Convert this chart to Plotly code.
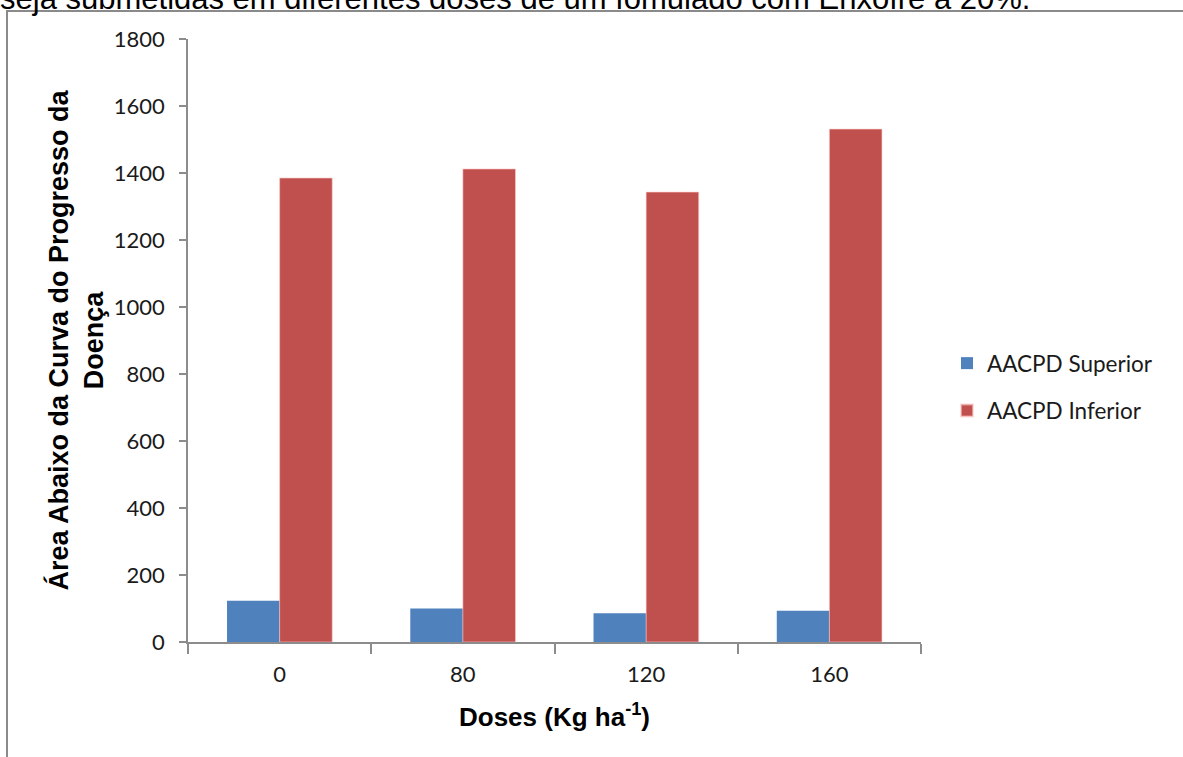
import plotly.graph_objects as go

doses = ["0", "80", "120", "160"]
superior = [123, 100, 86, 93]
inferior = [1385, 1412, 1343, 1531]
y_ticks = [0, 200, 400, 600, 800, 1000, 1200, 1400, 1600, 1800]

W, H = 1183, 757
L, R, T, B = 188, 262, 39, 115
pw, ph = W - L - R, H - T - B

def px_x(x):
    return (x - L) / pw

def px_y(y):
    return (H - B - y) / ph

fig = go.Figure()
fig.add_trace(go.Bar(x=doses, y=superior, name="AACPD Superior",
                     marker=dict(color="#4F81BD", line=dict(width=0)),
                     legendgroup="a"))
fig.add_trace(go.Bar(x=doses, y=inferior, name="AACPD Inferior",
                     marker=dict(color="#C0504D", line=dict(color="rgba(255,200,200,0.6)", width=1)),
                     legendgroup="b"))

fig.update_layout(
    width=W, height=H,
    margin=dict(l=L, r=R, t=T, b=B),
    paper_bgcolor="white", plot_bgcolor="white",
    barmode="group", bargap=0.426, bargroupgap=0,
    showlegend=True,
    legend=dict(x=px_x(947), y=px_y(342), xanchor="left", yanchor="top",
                font=dict(family="Lato", size=22.5, color="#1a1a1a"),
                tracegroupgap=15, traceorder="grouped",
                itemsizing="constant", bgcolor="rgba(0,0,0,0)"),
    xaxis=dict(
        showline=True, linecolor="#8c8c8c", linewidth=1.5,
        ticks="outside", ticklen=10, tickcolor="#8c8c8c", tickwidth=1.5,
        tickson="boundaries", showgrid=False, ticklabelstandoff=12,
        tickfont=dict(family="Lato", size=22, color="#1a1a1a"),
        title=dict(text="<b>Doses (Kg ha<sup>-1</sup>)</b>",
                   font=dict(family="Arial", size=26, color="black"), standoff=22),
    ),
    yaxis=dict(
        range=[0, 1800], tickvals=y_ticks,
        showline=True, linecolor="#8c8c8c", linewidth=1.5,
        ticks="outside", ticklen=7, tickcolor="#8c8c8c", tickwidth=1.5,
        ticklabelstandoff=10,
        showgrid=False, zeroline=False,
        tickfont=dict(family="Lato", size=22, color="#1a1a1a"),
        title=dict(text="<b>Área Abaixo da Curva do Progresso da<br>Doença</b>",
                   font=dict(family="Arial", size=27, color="black"), standoff=2),
    ),
    shapes=[dict(type="rect", xref="paper", yref="paper",
                 x0=px_x(7), x1=px_x(W + 20), y0=px_y(H + 20), y1=px_y(11),
                 line=dict(color="#8a8a8a", width=2), fillcolor="rgba(0,0,0,0)",
                 layer="below")],
    annotations=[dict(text="seja submetidas em diferentes doses de um fomulado com Enxofre a 20%.",
                      xref="paper", yref="paper", x=px_x(-2), y=px_y(18),
                      xanchor="left", yanchor="bottom", showarrow=False,
                      font=dict(family="Arial", size=31, color="black"))],
)

fig.write_html("out.html")
